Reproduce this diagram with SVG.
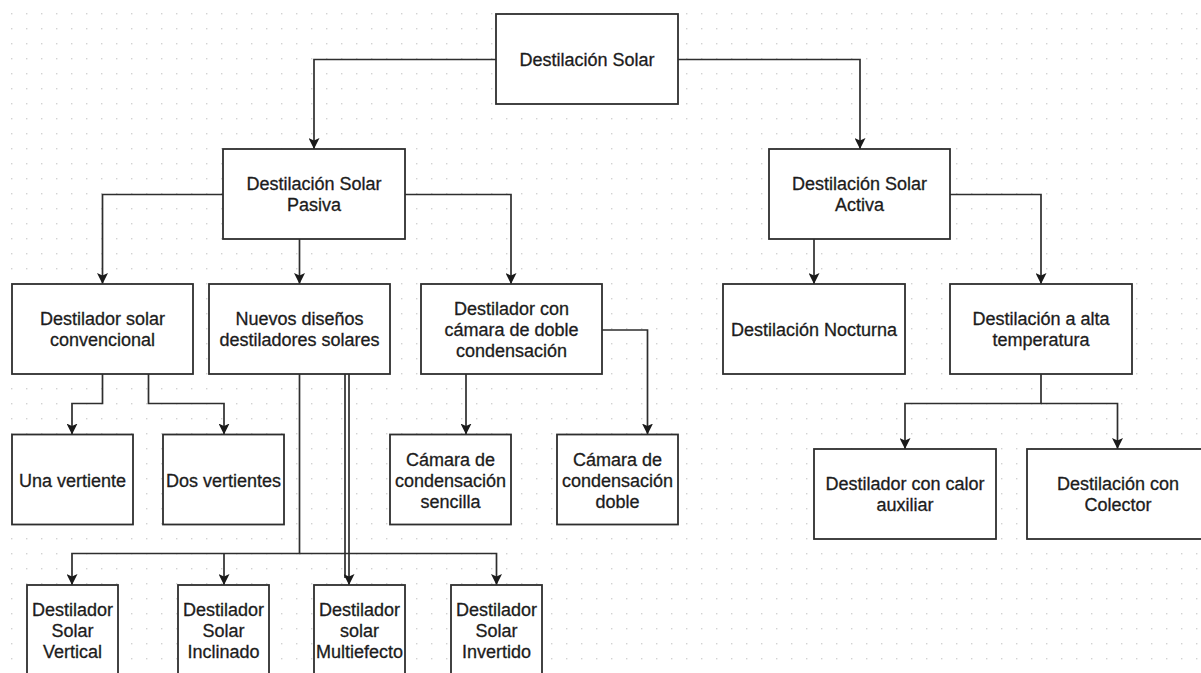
<svg xmlns="http://www.w3.org/2000/svg" width="1201" height="673" viewBox="0 0 1201 673">
<defs>
<pattern id="grid" width="15" height="15" patternUnits="userSpaceOnUse" x="11" y="13">
<rect x="0" y="0" width="1.4" height="1.4" fill="#d2d2d2"/>
</pattern>
<marker id="arr" markerWidth="11" markerHeight="11" refX="11" refY="5.5" orient="auto" markerUnits="userSpaceOnUse">
<path d="M0,0 L11,5.5 L0,11 L2.5,5.5 Z" fill="#1a1a1a"/>
</marker>
<style>
.box{fill:#fff;stroke:#2e2e2e;stroke-width:1.8}
.edge{fill:none;stroke:#2e2e2e;stroke-width:1.7}
.lbl{font-family:"Liberation Sans",Arial,Helvetica,sans-serif;font-size:18px;fill:#1c1c1c;stroke:#1c1c1c;stroke-width:0.3;text-anchor:middle}
</style>
</defs>
<rect width="1201" height="673" fill="#fff"/>
<rect width="1201" height="673" fill="url(#grid)"/>

<g id="connectors">
<path class="edge" d="M496,59.5 H314 V149" marker-end="url(#arr)"/>
<path class="edge" d="M678,59.5 H860 V149" marker-end="url(#arr)"/>
<path class="edge" d="M223,194.5 H102.5 V284" marker-end="url(#arr)"/>
<path class="edge" d="M299.5,239 V284" marker-end="url(#arr)"/>
<path class="edge" d="M405,194.5 H511 V284" marker-end="url(#arr)"/>
<path class="edge" d="M814,239 V284" marker-end="url(#arr)"/>
<path class="edge" d="M950,194.5 H1041 V284" marker-end="url(#arr)"/>
<path class="edge" d="M102.5,374 V403.5 H72 V434.5" marker-end="url(#arr)"/>
<path class="edge" d="M148.5,374 V403.5 H224 V434.5" marker-end="url(#arr)"/>
<path class="edge" d="M466,374 V434.5" marker-end="url(#arr)"/>
<path class="edge" d="M602,330 H647.5 V434.5" marker-end="url(#arr)"/>
<path class="edge" d="M1041,374 V403.5 H905 V449" marker-end="url(#arr)"/>
<path class="edge" d="M1041,403.5 H1117.5 V449" marker-end="url(#arr)"/>
<path class="edge" d="M299.5,374 V553.5 H72 V585" marker-end="url(#arr)"/>
<path class="edge" d="M224,553.5 V585" marker-end="url(#arr)"/>
<path class="edge" d="M299.5,553.5 H496.5 V585" marker-end="url(#arr)"/>
<path class="edge" d="M345,374 V578"/>
<path class="edge" d="M349,374 V585" marker-end="url(#arr)"/>
</g>

<g id="n-root"><rect class="box" x="496" y="14" width="182" height="90"/><text class="lbl" x="587" y="66">Destilación Solar</text></g>
<g id="n-pasiva"><rect class="box" x="223" y="149" width="182" height="90"/><text class="lbl" x="314" y="190">Destilación Solar</text><text class="lbl" x="314" y="211">Pasiva</text></g>
<g id="n-activa"><rect class="box" x="769" y="149" width="181" height="90"/><text class="lbl" x="859.5" y="190">Destilación Solar</text><text class="lbl" x="859.5" y="211">Activa</text></g>

<g id="n-convencional"><rect class="box" x="12" y="284" width="181" height="90"/><text class="lbl" x="102.5" y="325">Destilador solar</text><text class="lbl" x="102.5" y="346">convencional</text></g>
<g id="n-nuevos"><rect class="box" x="209" y="284" width="181" height="90"/><text class="lbl" x="299.5" y="325">Nuevos diseños</text><text class="lbl" x="299.5" y="346">destiladores solares</text></g>
<g id="n-doblecond"><rect class="box" x="421" y="284" width="181" height="90"/><text class="lbl" x="511.5" y="315">Destilador con</text><text class="lbl" x="511.5" y="336">cámara de doble</text><text class="lbl" x="511.5" y="357">condensación</text></g>
<g id="n-nocturna"><rect class="box" x="723" y="284" width="182" height="90"/><text class="lbl" x="814" y="336">Destilación Nocturna</text></g>
<g id="n-alta"><rect class="box" x="950" y="284" width="182" height="90"/><text class="lbl" x="1041" y="325">Destilación a alta</text><text class="lbl" x="1041" y="346">temperatura</text></g>

<g id="n-una"><rect class="box" x="12" y="434.5" width="121" height="90"/><text class="lbl" x="72.5" y="487">Una vertiente</text></g>
<g id="n-dos"><rect class="box" x="163" y="434.5" width="121" height="90"/><text class="lbl" x="223.5" y="487">Dos vertientes</text></g>
<g id="n-sencilla"><rect class="box" x="390" y="434.5" width="121" height="90"/><text class="lbl" x="450.5" y="466">Cámara de</text><text class="lbl" x="450.5" y="487">condensación</text><text class="lbl" x="450.5" y="508">sencilla</text></g>
<g id="n-doble"><rect class="box" x="557" y="434.5" width="121" height="90"/><text class="lbl" x="617.5" y="466">Cámara de</text><text class="lbl" x="617.5" y="487">condensación</text><text class="lbl" x="617.5" y="508">doble</text></g>
<g id="n-calor"><rect class="box" x="814" y="449" width="182" height="90"/><text class="lbl" x="905" y="490">Destilador con calor</text><text class="lbl" x="905" y="511">auxiliar</text></g>
<g id="n-colector"><rect class="box" x="1027" y="449" width="182" height="90"/><text class="lbl" x="1118" y="490">Destilación con</text><text class="lbl" x="1118" y="511">Colector</text></g>

<g id="n-vertical"><rect class="box" x="27" y="585" width="91" height="90"/><text class="lbl" x="72.5" y="616">Destilador</text><text class="lbl" x="72.5" y="637">Solar</text><text class="lbl" x="72.5" y="658">Vertical</text></g>
<g id="n-inclinado"><rect class="box" x="178" y="585" width="91" height="90"/><text class="lbl" x="223.5" y="616">Destilador</text><text class="lbl" x="223.5" y="637">Solar</text><text class="lbl" x="223.5" y="658">Inclinado</text></g>
<g id="n-multiefecto"><rect class="box" x="314" y="585" width="91" height="90"/><text class="lbl" x="359.5" y="616">Destilador</text><text class="lbl" x="359.5" y="637">solar</text><text class="lbl" x="359.5" y="658">Multiefecto</text></g>
<g id="n-invertido"><rect class="box" x="451" y="585" width="91" height="90"/><text class="lbl" x="496.5" y="616">Destilador</text><text class="lbl" x="496.5" y="637">Solar</text><text class="lbl" x="496.5" y="658">Invertido</text></g>
</svg>
